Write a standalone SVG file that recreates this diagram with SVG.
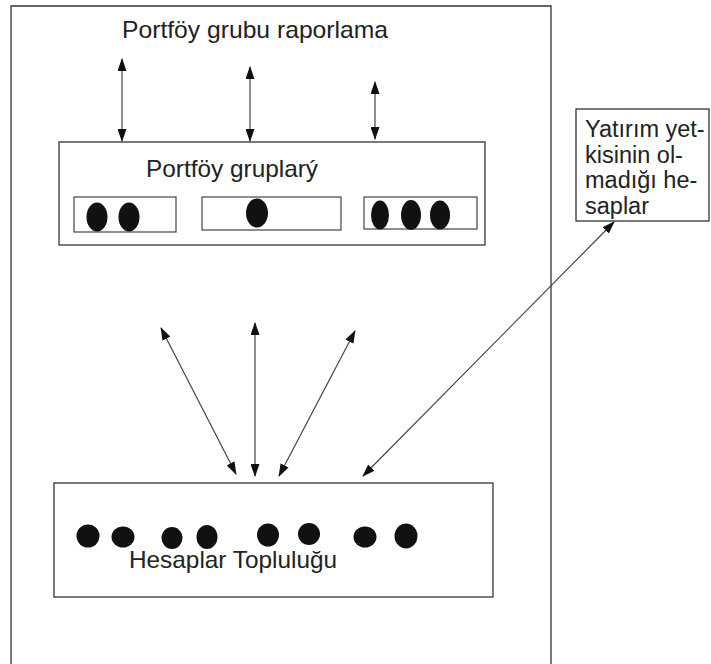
<svg xmlns="http://www.w3.org/2000/svg" width="711" height="664" viewBox="0 0 711 664">
<style>
.box{fill:#fff;stroke:#333;stroke-width:1.3}
.sub{fill:#fff;stroke:#444;stroke-width:1.2}
.t{font-family:"Liberation Sans",Arial,sans-serif;fill:#222}
.dot{fill:#111}
.con line{stroke:#444;stroke-width:1.2;marker-start:url(#ah);marker-end:url(#ah)}
</style>
<defs>
<marker id="ah" viewBox="0 0 13 9" refX="12" refY="4.5" markerWidth="13" markerHeight="9" markerUnits="userSpaceOnUse" orient="auto-start-reverse">
<path d="M0,0 L13,4.5 L0,9 z" fill="#111"/>
</marker>
</defs>
<rect width="711" height="664" fill="#fff"/>
<g id="frame">
<path d="M11,670 V6 H551 V670" fill="none" stroke="#333" stroke-width="1.3"/>
<text class="t" x="122" y="38" font-size="24" textLength="266" lengthAdjust="spacingAndGlyphs">Portföy grubu raporlama</text>
</g>
<g id="portfoy-gruplari">
<rect class="box" x="59" y="142" width="426" height="103"/>
<text class="t" x="146" y="177" font-size="24" textLength="172" lengthAdjust="spacingAndGlyphs">Portföy gruplarý</text>
<rect class="sub" x="74" y="197" width="102" height="35"/>
<ellipse class="dot" cx="97" cy="217" rx="10.5" ry="14.5"/>
<ellipse class="dot" cx="129" cy="217" rx="10.5" ry="14.5"/>
<rect class="sub" x="202" y="197" width="139" height="33"/>
<ellipse class="dot" cx="257" cy="213" rx="11" ry="14.5"/>
<rect class="sub" x="364" y="197" width="113" height="32"/>
<ellipse class="dot" cx="380" cy="215" rx="9" ry="14.5"/>
<ellipse class="dot" cx="411" cy="215" rx="10" ry="15"/>
<ellipse class="dot" cx="440" cy="215" rx="10" ry="14.5"/>
</g>
<g id="yatirim">
<rect class="box" x="576" y="109" width="133" height="112"/>
<text class="t" font-size="23.5">
<tspan x="585" y="137">Yatırım yet-</tspan>
<tspan x="585" y="162.5">kisinin ol-</tspan>
<tspan x="585" y="188">madığı he-</tspan>
<tspan x="585" y="213.5">saplar</tspan>
</text>
</g>
<g id="hesaplar">
<rect class="box" x="54" y="483" width="439" height="114"/>
<ellipse class="dot" cx="88" cy="536" rx="11.5" ry="11.5"/>
<ellipse class="dot" cx="123" cy="537" rx="11.5" ry="10.5"/>
<ellipse class="dot" cx="172" cy="538" rx="10.5" ry="11"/>
<ellipse class="dot" cx="207" cy="537" rx="10.5" ry="12"/>
<ellipse class="dot" cx="268" cy="535" rx="11" ry="11.5"/>
<ellipse class="dot" cx="309" cy="534" rx="11" ry="11"/>
<ellipse class="dot" cx="365" cy="537" rx="11.5" ry="10.5"/>
<ellipse class="dot" cx="406" cy="536" rx="11.5" ry="12.5"/>
<text class="t" x="129" y="568" font-size="24" textLength="208" lengthAdjust="spacingAndGlyphs">Hesaplar Topluluğu</text>
</g>
<g id="connectors" class="con">
<line x1="122" y1="59" x2="122" y2="141"/>
<line x1="250" y1="67" x2="250" y2="141"/>
<line x1="375" y1="82" x2="375" y2="139"/>
<line x1="161" y1="328" x2="236" y2="474"/>
<line x1="255" y1="323" x2="255" y2="476"/>
<line x1="355" y1="331" x2="279" y2="476"/>
<line x1="614" y1="222" x2="363" y2="476"/>
</g>
</svg>
